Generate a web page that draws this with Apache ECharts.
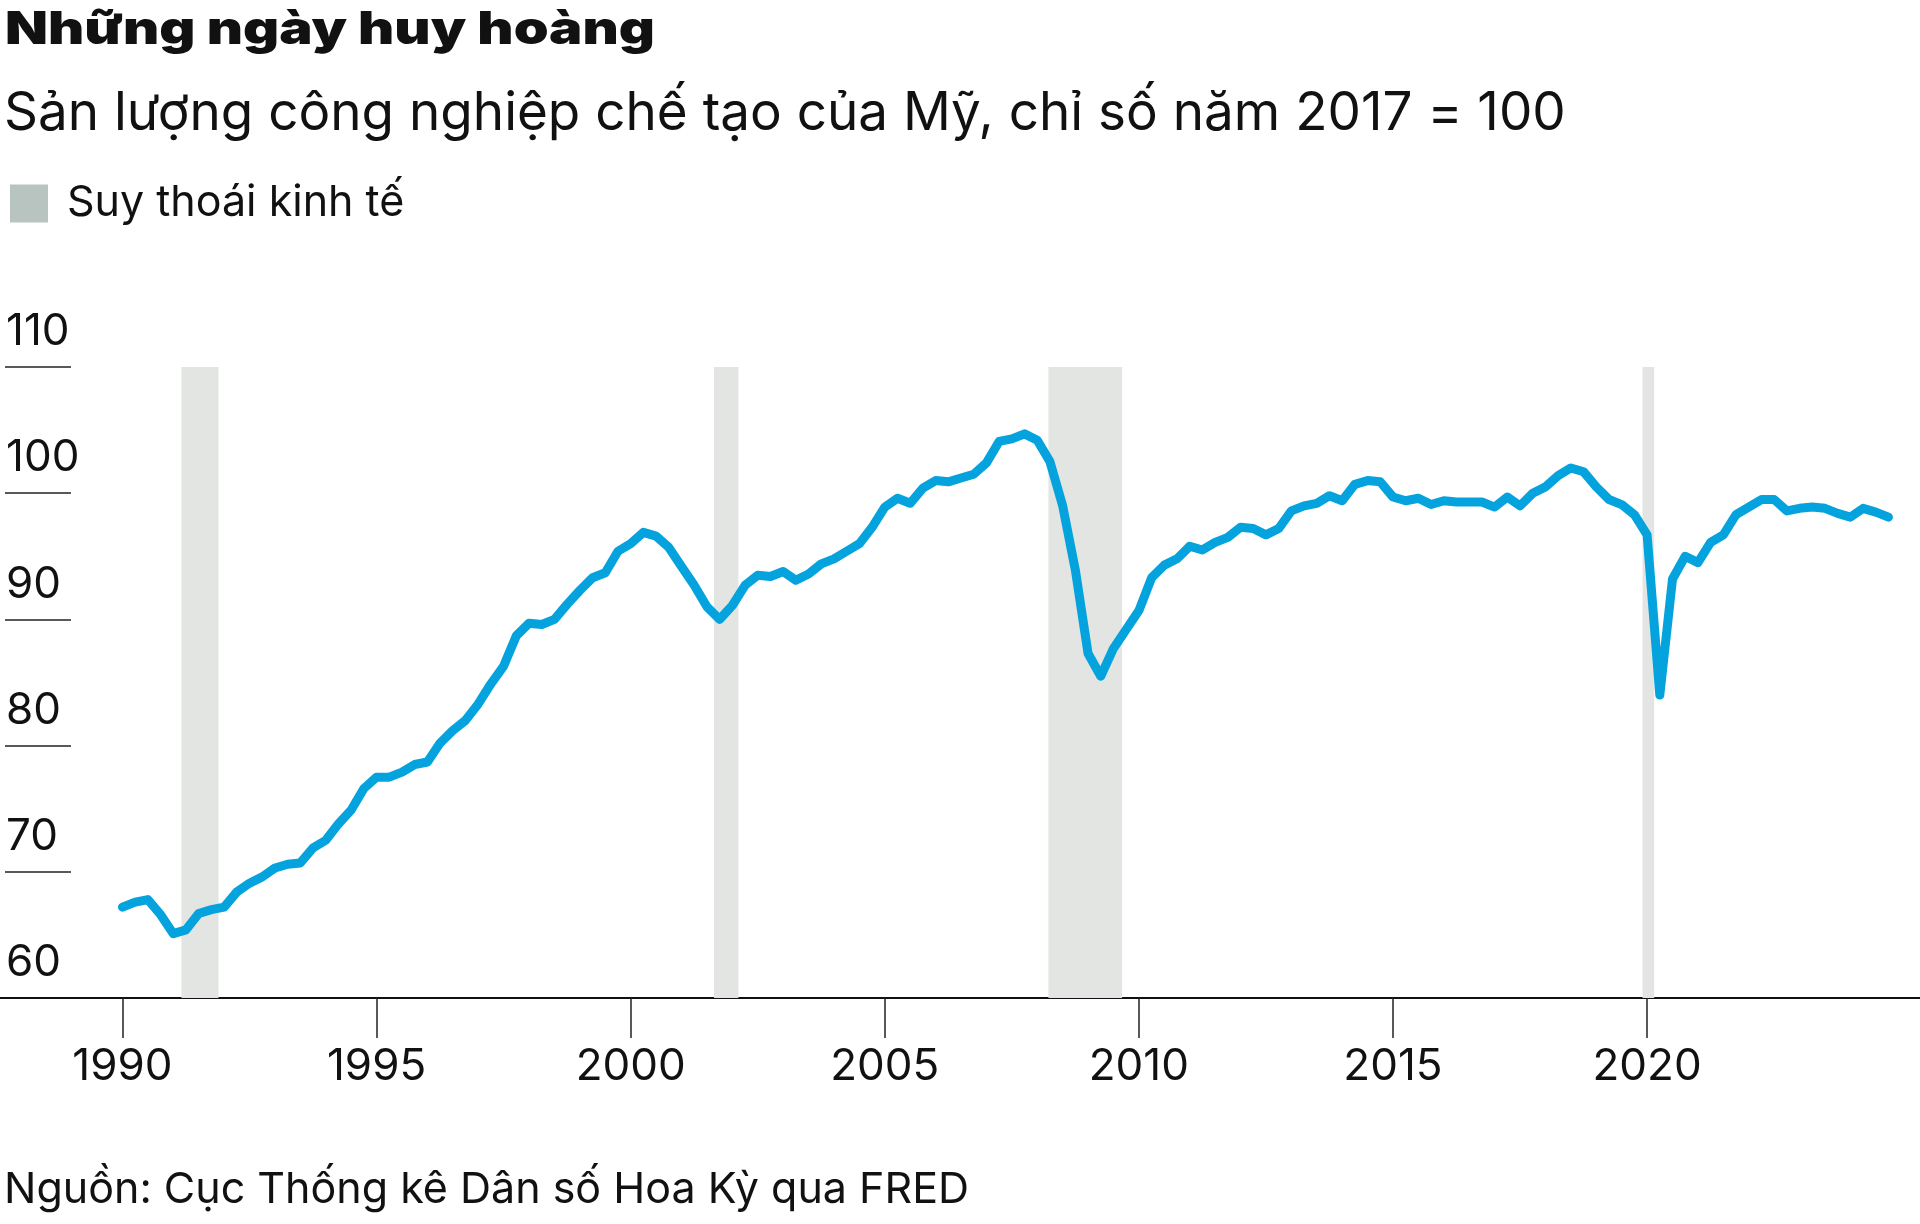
<!DOCTYPE html>
<html>
<head>
<meta charset="utf-8">
<title>Những ngày huy hoàng</title>
<script src="https://cdn.jsdelivr.net/npm/echarts@6/dist/echarts.min.js"></script>
<style>
    html, body { margin: 0; padding: 0; background: #fff; }
    #chart { width: 1920px; height: 1224px; }
</style>
</head>
<body>
<div id="chart"></div>
<script>
// quarterly index, 1990 Q1 .. 2024 Q4 (2017 = 100)
const startYear = 1990
const outputIndex = [
    67.2, 67.6, 67.8, 66.6,     // 1990
    65.1, 65.4, 66.7, 67.0,     // 1991
    67.2, 68.4, 69.1, 69.6,     // 1992
    70.3, 70.6, 70.7, 71.9,     // 1993
    72.5, 73.8, 74.9, 76.6,     // 1994
    77.5, 77.5, 77.9, 78.5,     // 1995
    78.7, 80.2, 81.2, 82.0,     // 1996
    83.3, 84.9, 86.3, 88.7,     // 1997
    89.7, 89.6, 90.0, 91.2,     // 1998
    92.3, 93.3, 93.7, 95.4,     // 1999
    96.0, 96.9, 96.6, 95.7,     // 2000
    94.2, 92.7, 91.0, 90.0,     // 2001
    91.1, 92.7, 93.5, 93.4,     // 2002
    93.8, 93.1, 93.6, 94.4,     // 2003
    94.8, 95.4, 96.0, 97.3,     // 2004
    98.9, 99.6, 99.2, 100.4,    // 2005
    101.0, 100.9, 101.2, 101.5, // 2006
    102.4, 104.1, 104.3, 104.7, // 2007
    104.2, 102.5, 99.0, 93.9,   // 2008
    87.3, 85.5, 87.7, 89.2,     // 2009
    90.7, 93.3, 94.3, 94.8,     // 2010
    95.8, 95.5, 96.1, 96.5,     // 2011
    97.3, 97.2, 96.7, 97.2,     // 2012
    98.6, 99.0, 99.2, 99.8,     // 2013
    99.4, 100.7, 101.0, 100.9,  // 2014
    99.7, 99.4, 99.6, 99.1,     // 2015
    99.4, 99.3, 99.3, 99.3,     // 2016
    98.9, 99.7, 99.0, 100.0,    // 2017
    100.5, 101.4, 102.0, 101.7, // 2018
    100.5, 99.5, 99.1, 98.3,    // 2019
    96.7, 84.0, 93.2, 95.0,     // 2020
    94.5, 96.1, 96.7, 98.3,     // 2021
    98.9, 99.5, 99.5, 98.6,     // 2022
    98.8, 98.9, 98.8, 98.4,     // 2023
    98.1, 98.8, 98.5, 98.1      // 2024
]

// shaded recession bands (decimal years, as drawn)
const recessionStart = [1991.16, 2001.64, 2008.22, 2019.91]
const recessionEnd = [1991.89, 2002.12, 2009.67, 2020.14]

const xTickYears = [1990, 1995, 2000, 2005, 2010, 2015, 2020]
const yMin = 60, yMax = 110, yStep = 10

const titleText = "Những ngày huy hoàng"
const subtitleText = "Sản lượng công nghiệp chế tạo của Mỹ, chỉ số năm 2017 = 100"
const legendText = "Suy thoái kinh tế"
const sourceText = "Nguồn: Cục Thống kê Dân số Hoa Kỳ qua FRED"

const FONT = "Inter, 'Noto Sans', sans-serif"

function init() {
    let chart = echarts.init(document.getElementById("chart"), null, { renderer: "canvas" })

    let lineData = outputIndex.map((v, i) => [startYear + i / 4, v])
    let bands = recessionStart.map((s, i) => [
        { xAxis: s, yAxis: yMin },
        { xAxis: recessionEnd[i], yAxis: yMax }
    ])

    let option = {
        backgroundColor: "#fff",
        animation: false,
        // headline is set in a wide black face in the original; stretch Inter to fit
        graphic: [{
            type: "text",
            x: 5, y: 7,
            scaleX: 1.215,
            style: {
                text: titleText,
                fontFamily: FONT, fontWeight: 900, fontSize: 46, lineHeight: 46,
                fill: "#111",
                verticalAlign: "top"
            }
        }],
        title: [{
            text: subtitleText,
            left: 4, top: 88, padding: 0,
            textStyle: { fontFamily: FONT, fontWeight: 400, fontSize: 53, lineHeight: 53, color: "#111" }
        }, {
            text: sourceText,
            left: 4, top: 1169, padding: 0,
            textStyle: { fontFamily: FONT, fontWeight: 400, fontSize: 43, lineHeight: 43, color: "#111" }
        }],
        legend: {
            data: [{ name: legendText, icon: "rect" }],
            left: 10, top: 182, padding: 0,
            itemWidth: 38, itemHeight: 38,
            selectedMode: false,
            textStyle: { fontFamily: FONT, fontSize: 43, color: "#111", padding: [0, 0, 0, 14] }
        },
        grid: [
            { left: 0, right: 0, top: 367, bottom: 226 },
            { left: 5, width: 66, top: 367, bottom: 226 }
        ],
        xAxis: [{
            type: "value",
            gridIndex: 0,
            min: 1987.59,
            max: 2025.37,
            splitLine: { show: false },
            axisLine: { show: true, onZero: false, lineStyle: { color: "#111", width: 2 } },
            axisTick: {
                show: true,
                customValues: xTickYears,
                length: 40,
                lineStyle: { color: "#222", width: 1.5 }
            },
            axisLabel: {
                customValues: xTickYears,
                margin: 47,
                fontFamily: FONT,
                fontSize: 44,
                lineHeight: 44,
                color: "#111",
                formatter: v => String(v)
            }
        }, {
            type: "value",
            gridIndex: 1,
            min: 0, max: 1,
            show: false
        }],
        yAxis: [{
            type: "value",
            gridIndex: 0,
            min: yMin, max: yMax, interval: yStep,
            show: false
        }, {
            type: "value",
            gridIndex: 1,
            min: yMin, max: yMax, interval: yStep,
            axisLine: { show: false },
            axisTick: { show: false },
            splitLine: { show: true, lineStyle: { color: "#222", width: 1.5 } },
            axisLabel: {
                inside: true,
                margin: 1,
                align: "left",
                verticalAlign: "bottom",
                fontFamily: FONT,
                fontSize: 44,
                lineHeight: 44,
                padding: [0, 0, 13, 0],
                color: "#111"
            }
        }],
        series: [{
            name: legendText,
            type: "line",
            xAxisIndex: 0, yAxisIndex: 0,
            data: [],
            itemStyle: { color: "#b8c4bf" }
        }, {
            name: "Sản lượng",
            type: "line",
            xAxisIndex: 0, yAxisIndex: 0,
            data: lineData,
            showSymbol: false,
            z: 3,
            lineStyle: { color: "#05a3de", width: 9, cap: "round", join: "round" },
            itemStyle: { color: "#05a3de" },
            markArea: {
                silent: true,
                itemStyle: { color: "#e2e5e2" },
                data: bands
            }
        }]
    }

    chart.setOption(option)
}

init()
</script>
</body>
</html>
